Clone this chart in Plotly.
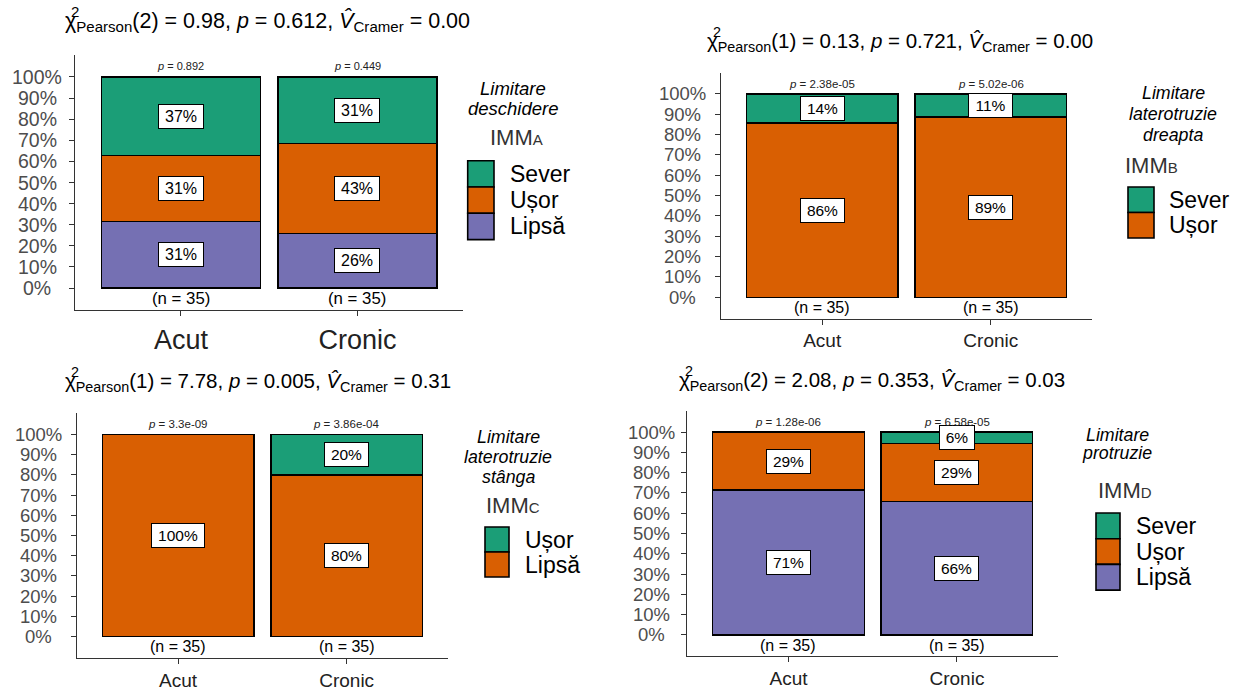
import plotly.graph_objects as go

W, H = 1245, 693

categories = ["Acut", "Cronic"]
n_labels = ["(n = 35)", "(n = 35)"]
y_ticks = [0, 10, 20, 30, 40, 50, 60, 70, 80, 90, 100]
y_tick_text = [f"{v}%" for v in y_ticks]

# Limitare deschidere (IMM A) - stacked bottom to top
a_levels = ["Lipsă", "Ușor", "Sever"]
a_acut = [31.4, 31.4, 37.1]
a_cronic = [25.7, 42.9, 31.4]
a_pvals = ["0.892", "0.449"]
a_stats = ("2", "0.98", "0.612", "0.00")

# Limitare laterotruzie dreapta (IMM B)
b_levels = ["Ușor", "Sever"]
b_acut = [85.7, 14.3]
b_cronic = [88.6, 11.4]
b_pvals = ["2.38e-05", "5.02e-06"]
b_stats = ("1", "0.13", "0.721", "0.00")

# Limitare laterotruzie stânga (IMM C)
c_levels = ["Lipsă", "Ușor"]
c_acut = [100.0, 0.0]
c_cronic = [80.0, 20.0]
c_pvals = ["3.3e-09", "3.86e-04"]
c_stats = ("1", "7.78", "0.005", "0.31")

# Limitare protruzie (IMM D)
d_levels = ["Lipsă", "Ușor", "Sever"]
d_acut = [71.4, 28.6, 0.0]
d_cronic = [65.7, 28.6, 5.7]
d_pvals = ["1.28e-06", "6.58e-05"]
d_stats = ("2", "2.08", "0.353", "0.03")

TEAL, ORANGE, PURPLE = "#1B9E77", "#D95F02", "#7570B3"
FONT = "Liberation Sans, Arial, sans-serif"
GREY = "#4D4D4D"


def px(x):
    return x / W


def py(y):
    return 1 - y / H


def text_width(s, size):
    # rough Arial advance widths for the percentage boxes
    w = sum(0.889 if ch == "%" else 0.556 for ch in s)
    return w * size


panels = [
    dict(levels=a_levels, acut=a_acut, cronic=a_cronic, pvals=a_pvals, stats=a_stats,
         colors=[PURPLE, ORANGE, TEAL],
         box=(75, 54.8, 463.4, 310.2), title_x=63, title_base=29, title_fs=21.5,
         ytick_cx=37, ytick_fs=19.5, xtick_fs=27, n_fs=16.8, p_fs=11, pct_fs=16,
         leg_lines=["Limitare", "deschidere"], leg_cx=513, leg_ys=[88, 108], leg_fs=18.5,
         imm="A", imm_cx=516, imm_y=137,
         key_x=(467.7, 494), key_top=160.7, key_h=26.3, lab_x=508),
    dict(levels=b_levels, acut=b_acut, cronic=b_cronic, pvals=b_pvals, stats=b_stats,
         colors=[ORANGE, TEAL],
         box=(721, 72.6, 1092, 318.6), title_x=705, title_base=49, title_fs=20.5,
         ytick_cx=682, ytick_fs=18.5, xtick_fs=19, n_fs=16, p_fs=11.5, pct_fs=15.5,
         leg_lines=["Limitare", "laterotruzie", "dreapta"], leg_cx=1173, leg_ys=[93, 114, 135], leg_fs=17.8,
         imm="B", imm_cx=1151, imm_y=166,
         key_x=(1128, 1154), key_top=187, key_h=25.5, lab_x=1167),
    dict(levels=c_levels, acut=c_acut, cronic=c_cronic, pvals=c_pvals, stats=c_stats,
         colors=[ORANGE, TEAL],
         box=(77, 413.1, 447.8, 657.9), title_x=63, title_base=389, title_fs=20.5,
         ytick_cx=38, ytick_fs=18.5, xtick_fs=19, n_fs=16, p_fs=11.5, pct_fs=15.5,
         leg_lines=["Limitare", "laterotruzie", "stânga"], leg_cx=508, leg_ys=[437, 457, 477], leg_fs=17.8,
         imm="C", imm_cx=513, imm_y=505,
         key_x=(485, 509), key_top=527, key_h=25, lab_x=523),
    dict(levels=d_levels, acut=d_acut, cronic=d_cronic, pvals=d_pvals, stats=d_stats,
         colors=[PURPLE, ORANGE, TEAL],
         box=(687.4, 410.7, 1058, 656.3), title_x=677, title_base=388, title_fs=20.5,
         ytick_cx=651, ytick_fs=18.5, xtick_fs=19, n_fs=16, p_fs=11.5, pct_fs=15.5,
         leg_lines=["Limitare", "protruzie"], leg_cx=1117, leg_ys=[435, 453], leg_fs=17.8,
         imm="D", imm_cx=1125, imm_y=490,
         key_x=(1096, 1120), key_top=513, key_h=25.7, lab_x=1134),
]

fig = go.Figure()
annotations = []
shapes = []
layout = {}

for i, p in enumerate(panels, start=1):
    xa = "x" if i == 1 else f"x{i}"
    ya = "y" if i == 1 else f"y{i}"
    x0, y0, x1, y1 = p["box"]

    # stacked segments
    for k, lev in enumerate(p["levels"]):
        vals = [p["acut"][k], p["cronic"][k]]
        fig.add_trace(go.Bar(
            x=categories, y=vals, name=lev, xaxis=xa, yaxis=ya, width=0.9,
            marker=dict(color=p["colors"][k], line=dict(color="black", width=1.4)),
            showlegend=False, hoverinfo="skip"))
        # percentage labels at segment midpoints
        for c, cat in enumerate(categories):
            series = p["acut"] if c == 0 else p["cronic"]
            v = series[k]
            if v <= 0:
                continue
            mid = sum(series[:k]) + v / 2
            label = f"{round(v)}%"
            annotations.append(dict(
                x=cat, y=mid, xref=xa, yref=ya, text=label, showarrow=False,
                font=dict(family=FONT, size=p["pct_fs"], color="black"),
                bgcolor="white", bordercolor="black", borderwidth=1, borderpad=2,
                width=round(text_width(label, p["pct_fs"]) + 8), height=p["pct_fs"] + 3,
                xanchor="center", yanchor="middle"))

    # p-values above and sample sizes below bars
    for c, cat in enumerate(categories):
        annotations.append(dict(
            x=cat, y=105, xref=xa, yref=ya, text=f"<i>p</i> = {p['pvals'][c]}",
            showarrow=False, font=dict(family=FONT, size=p["p_fs"], color="#222"),
            xanchor="center", yanchor="middle"))
        annotations.append(dict(
            x=cat, y=-5, xref=xa, yref=ya, text=n_labels[c], showarrow=False,
            font=dict(family=FONT, size=p["n_fs"], color="black"),
            xanchor="center", yanchor="middle"))

    # centred y tick labels
    for v, t in zip(y_ticks, y_tick_text):
        annotations.append(dict(
            x=px(p["ytick_cx"]), y=v, xref="paper", yref=ya, text=t, showarrow=False,
            font=dict(family=FONT, size=p["ytick_fs"], color=GREY),
            xanchor="center", yanchor="middle"))

    layout[("xaxis" if i == 1 else f"xaxis{i}")] = dict(
        domain=[px(x0), px(x1)], anchor=ya, range=[-0.6, 1.6], type="category",
        showline=True, linecolor="#333", linewidth=1.1, ticks="outside", ticklen=5,
        tickcolor="#333", tickwidth=1.1, showgrid=False, zeroline=False,
        tickfont=dict(family=FONT, size=p["xtick_fs"], color="#222"), fixedrange=True)
    layout[("yaxis" if i == 1 else f"yaxis{i}")] = dict(
        domain=[py(y1), py(y0)], anchor=xa, range=[-10.5, 110.5],
        showline=True, linecolor="#333", linewidth=1.1, ticks="outside", ticklen=5,
        tickcolor="#333", tickwidth=1.1, tickvals=y_ticks, showticklabels=False,
        showgrid=False, zeroline=False, fixedrange=True)

    # title with chi-squared statistics
    df, chi, pv, v = p["stats"]
    fs = p["title_fs"]
    annotations.append(dict(
        x=px(p["title_x"]), y=py(p["title_base"] - 0.36 * fs), xref="paper", yref="paper",
        text=(f"χ<sub>Pearson</sub>({df}) = {chi}, <i>p</i> = {pv}, "
              f"<i>V\u0302</i><sub>Cramer</sub> = {v}"),
        showarrow=False, xanchor="left", yanchor="middle",
        font=dict(family=FONT, size=fs, color="black")))
    annotations.append(dict(
        x=px(p["title_x"] + 0.3 * fs), y=py(p["title_base"] - 0.82 * fs), xref="paper", yref="paper",
        text="2", showarrow=False, xanchor="left", yanchor="middle",
        font=dict(family=FONT, size=0.7 * fs, color="black")))

    # legend title
    for line, ly in zip(p["leg_lines"], p["leg_ys"]):
        annotations.append(dict(
            x=px(p["leg_cx"]), y=py(ly), xref="paper", yref="paper", text=f"<i>{line}</i>",
            showarrow=False, xanchor="center", yanchor="middle",
            font=dict(family=FONT, size=p["leg_fs"], color="black")))
    annotations.append(dict(
        x=px(p["imm_cx"]), y=py(p["imm_y"]), xref="paper", yref="paper",
        text=f"IMM<span style='font-size:15px'>{p['imm']}</span>",
        showarrow=False, xanchor="center", yanchor="middle",
        font=dict(family=FONT, size=22, color="#333")))

    # legend keys, top level first
    kx0, kx1 = p["key_x"]
    order = list(range(len(p["levels"])))[::-1]
    for j, k in enumerate(order):
        top = p["key_top"] + j * p["key_h"]
        shapes.append(dict(
            type="rect", xref="paper", yref="paper",
            x0=px(kx0), x1=px(kx1), y0=py(top + p["key_h"]), y1=py(top),
            fillcolor=p["colors"][k], line=dict(color="black", width=1.6)))
        annotations.append(dict(
            x=px(p["lab_x"]), y=py(top + p["key_h"] / 2), xref="paper", yref="paper",
            text=p["levels"][k], showarrow=False, xanchor="left", yanchor="middle",
            font=dict(family=FONT, size=23, color="black")))

fig.update_layout(
    width=W, height=H, autosize=False, margin=dict(l=0, r=0, t=0, b=0),
    paper_bgcolor="white", plot_bgcolor="white", barmode="stack", bargap=0.1,
    annotations=annotations, shapes=shapes, font=dict(family=FONT), **layout)

fig.write_html("out.html", config={"displayModeBar": False})
